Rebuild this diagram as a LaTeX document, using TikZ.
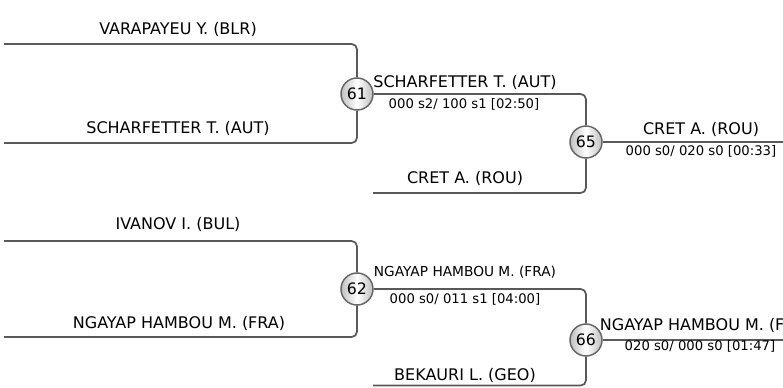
\documentclass[tikz,border=0pt]{standalone}
\usepackage{fontspec}
\setmainfont{DejaVu Sans}
\begin{document}
\begin{tikzpicture}[x=0.75pt,y=-0.75pt,
  wire/.style={draw=black!65,line width=1.3pt,rounded corners=4pt},
  match/.style={circle,draw=black!60,line width=1.1pt,minimum size=24pt,inner sep=0pt,
     left color=black!25,right color=black!25,middle color=white,font=\fontsize{11.8}{13}\selectfont},
  big/.style={anchor=base,inner sep=0pt,font=\fontsize{12}{13}\selectfont,text=black},
  small/.style={anchor=base,inner sep=0pt,font=\fontsize{9.9}{11}\selectfont,text=black},
  smallname/.style={anchor=base,inner sep=0pt,font=\fontsize{10.3}{11}\selectfont,text=black}]
\useasboundingbox (0,0) rectangle (783,387);
\clip (0,0) rectangle (783,387);
% match nodes
\node[match] (m61) at (357,94) {61};
\node[match] (m62) at (357,289) {62};
\node[match] (m65) at (586,142) {65};
\node[match] (m66) at (586,340) {66};
% free ends
\coordinate (a1) at (4,44);
\coordinate (a2) at (4,143);
\coordinate (b1) at (4,241);
\coordinate (b2) at (4,337);
\coordinate (c2) at (373,193);
\coordinate (c4) at (373,385.5);
\coordinate (e65) at (785,142);
\coordinate (e66) at (785,340);
% connectors
\draw[wire] (a1) -| (m61);
\draw[wire] (a2) -| (m61);
\draw[wire] (b1) -| (m62);
\draw[wire] (b2) -| (m62);
\draw[wire] (m61) -| (m65);
\draw[wire] (c2) -| (m65);
\draw[wire] (m62) -| (m66);
\draw[wire] (c4) -| (m66);
\draw[wire] (m65) -- (e65);
\draw[wire] (m66) -- (e66);
% labels
\node[big] (t1) at (178,34) {VARAPAYEU Y. (BLR)};
\node[big] (t2) at (178,133) {SCHARFETTER T. (AUT)};
\node[big] (t3) at (465,87) {SCHARFETTER T. (AUT)};
\node[small] (s3) at (464,108) {000 s2/ 100 s1 [02:50]};
\node[big] (t4) at (465,183) {CRET A. (ROU)};
\node[big] (t5) at (701,134) {CRET A. (ROU)};
\node[small] (s5) at (701,155) {000 s0/ 020 s0 [00:33]};
\node[big] (t6) at (178,229) {IVANOV I. (BUL)};
\node[big] (t7) at (179,328) {NGAYAP HAMBOU M. (FRA)};
\node[smallname] (t8) at (465,276) {NGAYAP HAMBOU M. (FRA)};
\node[small] (s8) at (465,303) {000 s0/ 011 s1 [04:00]};
\node[big] (t9) at (465,380) {BEKAURI L. (GEO)};
\node[big] (t10) at (706,330) {NGAYAP HAMBOU M. (FRA)};
\node[small] (s10) at (700,350) {020 s0/ 000 s0 [01:47]};
\end{tikzpicture}
\end{document}
